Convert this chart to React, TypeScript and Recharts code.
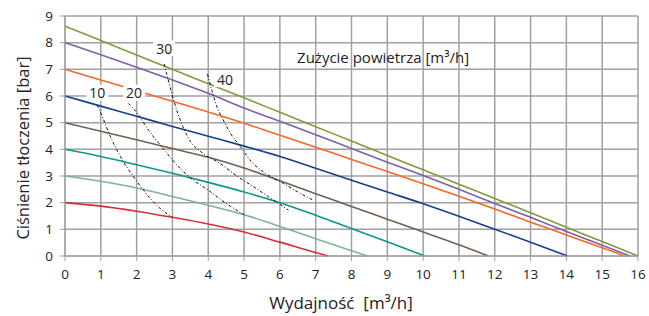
import React from 'react'
import { LineChart, Line, XAxis, YAxis, CartesianGrid, ReferenceDot } from 'recharts'

// pump curves: [flow m3/h, pressure bar]
const p86 = [[0, 8.62], [1, 8.08], [2, 7.54], [3, 7.0], [4, 6.46], [5, 5.93], [6, 5.39], [7, 4.85], [8, 4.31], [9, 3.77], [10, 3.23], [11, 2.69], [12, 2.16], [13, 1.62], [14, 1.08], [15, 0.54], [16, 0]]
const p8 = [[0, 8.0], [1, 7.55], [2, 7.08], [3, 6.6], [4, 6.1], [5, 5.55], [6, 5.05], [7, 4.55], [8, 4.03], [9, 3.52], [10, 3.02], [11, 2.5], [12, 1.97], [13, 1.45], [14, 0.92], [15, 0.4], [15.78, 0]]
const p7 = [[0, 7.0], [1, 6.6], [2, 6.2], [3, 5.8], [4, 5.4], [5, 4.98], [6, 4.53], [7, 4.08], [8, 3.62], [9, 3.17], [10, 2.71], [11, 2.24], [12, 1.76], [13, 1.27], [14, 0.79], [15, 0.31], [15.64, 0]]
const p6 = [[0, 6.0], [1, 5.62], [2, 5.24], [3, 4.86], [4, 4.49], [5, 4.12], [6, 3.73], [7, 3.29], [8, 2.84], [9, 2.4], [10, 1.96], [11, 1.49], [12, 1.0], [13, 0.52], [14.03, 0]]
const p5 = [[0, 5.0], [1, 4.68], [2, 4.36], [3, 4.03], [4, 3.7], [5, 3.3], [6, 2.82], [7, 2.33], [8, 1.86], [9, 1.38], [10, 0.9], [11, 0.42], [11.82, 0]]
const p4 = [[0, 4.0], [1, 3.73], [2, 3.42], [3, 3.1], [4, 2.76], [5, 2.4], [6, 2.0], [7, 1.53], [8, 1.03], [9, 0.53], [10.05, 0]]
const p3 = [[0, 3.0], [1, 2.8], [2, 2.55], [3, 2.23], [4, 1.9], [5, 1.55], [6, 1.11], [7, 0.65], [8, 0.2], [8.45, 0]]
const p2 = [[0, 2.0], [1, 1.87], [2, 1.68], [3, 1.45], [4, 1.2], [5, 0.9], [6, 0.52], [7, 0.13], [7.35, 0]]

// air consumption curves
const a10 = [[0.9, 5.66], [1.05, 5.2], [1.21, 4.66], [1.4, 4.1], [1.63, 3.54], [1.9, 3.0], [2.19, 2.47], [2.65, 1.79], [3.0, 1.45]]
const a20 = [[1.77, 5.72], [2.05, 5.3], [2.33, 4.72], [2.7, 4.1], [3.1, 3.45], [3.5, 2.93], [4.0, 2.47], [4.5, 1.97], [5.0, 1.55]]
const a30 = [[2.77, 7.2], [2.86, 6.72], [2.98, 6.1], [3.12, 5.47], [3.29, 4.85], [3.5, 4.3], [3.8, 3.9], [4.33, 3.47], [4.8, 3.0], [5.26, 2.6], [5.82, 2.1], [6.24, 1.72]]
const a40 = [[3.98, 6.82], [4.1, 6.22], [4.24, 5.6], [4.42, 5.1], [4.62, 4.6], [4.9, 4.1], [5.2, 3.54], [5.6, 3.1], [6.1, 2.72], [6.5, 2.4], [6.95, 2.08]]

const airLabels = [
  { x: 0.9, y: 6.12, text: '10' },
  { x: 1.93, y: 6.12, text: '20' },
  { x: 2.77, y: 7.79, text: '30' },
  { x: 4.47, y: 6.63, text: '40' },
]

const xTicks = [0, 1, 2, 3, 4, 5, 6, 7, 8, 9, 10, 11, 12, 13, 14, 15, 16]
const yTicks = [0, 1, 2, 3, 4, 5, 6, 7, 8, 9]

const pumps = [
  { key: 'p86', pts: p86, color: '#7f9c3c' },
  { key: 'p8', pts: p8, color: '#7f60a8' },
  { key: 'p7', pts: p7, color: '#fa6628' },
  { key: 'p6', pts: p6, color: '#15408f' },
  { key: 'p5', pts: p5, color: '#76604f' },
  { key: 'p4', pts: p4, color: '#0e9689' },
  { key: 'p3', pts: p3, color: '#7db592' },
  { key: 'p2', pts: p2, color: '#d92c3c' },
]
const airs = [
  { key: 'a10', pts: a10 },
  { key: 'a20', pts: a20 },
  { key: 'a30', pts: a30 },
  { key: 'a40', pts: a40 },
]

const toRows = (pts: number[][]) => pts.map(([x, y]) => ({ x, y }))

const FONT = '"Open Sans", sans-serif'
const GRID = '#a0a0a0'

export default function App() {
  return (
    <div style={{ position: 'absolute', left: 0, top: 0, background: '#fff', fontFamily: FONT }}>
      <LineChart width={649} height={316} margin={{ top: 16, right: 11, left: 0, bottom: 0 }}>
        <CartesianGrid stroke={GRID} strokeWidth={1.5} />
        <XAxis
          dataKey="x"
          type="number"
          domain={[0, 16]}
          ticks={xTicks}
          interval={0}
          height={60}
          tickSize={5}
          tickMargin={8}
          stroke={GRID}
          tick={{ fontSize: 13.5, fill: '#222', fontFamily: FONT }}
          label={{
            content: () => (
              <text x={341} y={302} textAnchor="middle" dominantBaseline="central" fontSize={17} fill="#222" fontFamily={FONT}>
                Wydajność{'\u00a0 '}[m³/h]
              </text>
            ),
          }}
        />
        <YAxis
          type="number"
          domain={[0, 9]}
          ticks={yTicks}
          interval={0}
          width={65}
          tickSize={5}
          tickMargin={7}
          stroke={GRID}
          tick={{ fontSize: 13.5, fill: '#222', fontFamily: FONT }}
          label={{
            content: () => (
              <text x={22} y={148} transform="rotate(-90 22 148)" textAnchor="middle" dominantBaseline="central" fontSize={16.5} fill="#222" fontFamily={FONT}>
                Ciśnienie tłoczenia [bar]
              </text>
            ),
          }}
        />
        {pumps.map(p => (
          <Line key={p.key} data={toRows(p.pts)} dataKey="y" type="monotone" stroke={p.color} strokeWidth={1.6} dot={false} isAnimationActive={false} />
        ))}
        {airs.map(a => (
          <Line key={a.key} data={toRows(a.pts)} dataKey="y" type="monotone" stroke="#111" strokeWidth={1} strokeDasharray="3 2 1 2" dot={false} isAnimationActive={false} />
        ))}
        {airLabels.map(l => (
          <ReferenceDot
            key={l.text}
            x={l.x}
            y={l.y}
            r={0}
            ifOverflow="visible"
            shape={(s: any) => (
              <g>
                <rect x={s.cx - 11} y={s.cy - 8} width={22} height={16} fill="#fff" />
                <text x={s.cx} y={s.cy} textAnchor="middle" dominantBaseline="central" fontSize={14} fill="#222" fontFamily={FONT}>{l.text}</text>
              </g>
            )}
          />
        ))}
        <ReferenceDot
          x={6.48}
          y={7.46}
          r={0}
          ifOverflow="visible"
          shape={(s: any) => (
            <text x={s.cx} y={s.cy} dominantBaseline="central" fontSize={15} fill="#222" fontFamily={FONT}>
              Zużycie powietrza [m³/h]
            </text>
          )}
        />
      </LineChart>
    </div>
  )
}
